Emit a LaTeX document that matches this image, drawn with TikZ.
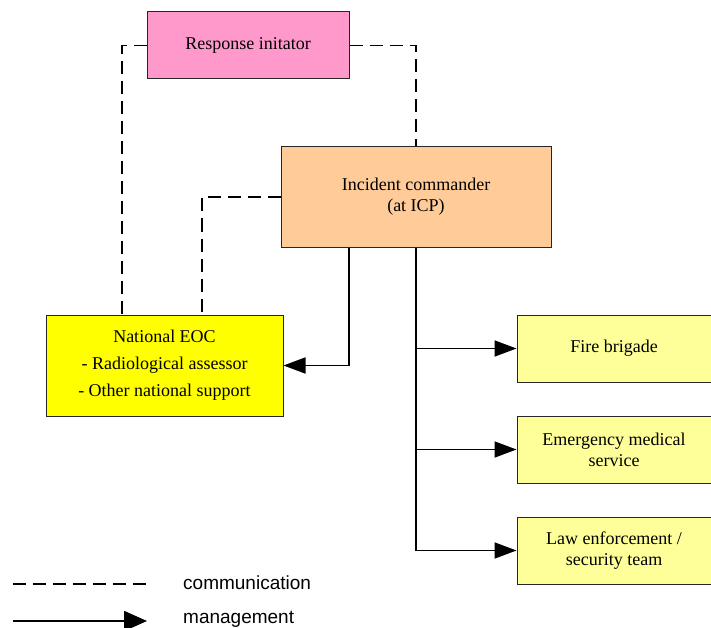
\documentclass[tikz,border=0pt]{standalone}
\usepackage{fontspec}
\setmainfont{Liberation Serif}
\newfontfamily\legendfont{Liberation Sans}
\usetikzlibrary{arrows.meta}

\definecolor{respfill}{HTML}{FF99CC}
\definecolor{icfill}{HTML}{FFCC99}
\definecolor{eocfill}{HTML}{FFFF00}
\definecolor{teamfill}{HTML}{FFFF99}

\tikzset{
  box/.style={draw=black!85, line width=1pt, align=center, inner sep=0pt,
    font=\fontsize{18}{21}\selectfont},
  comm/.style={line width=1.8pt, dash pattern=on 13pt off 7pt},
  mgmt/.style={line width=1.8pt, -{Triangle[length=22pt,width=16pt]}}
}

\begin{document}
\begin{tikzpicture}[x=1pt,y=-1pt]
  \useasboundingbox (0,0) rectangle (711,628);
  \clip (0,0) rectangle (711,628);

  % Draw the boxes
  \node[box, fill=respfill, minimum width=202pt, minimum height=67pt] (resp) at (248,45.5) {Response initator};
  \node[box, fill=icfill, minimum width=270pt, minimum height=100pt] (inc) at (416,197) {Incident commander\\(at ICP)};
  \node[box, fill=eocfill, minimum width=237pt, minimum height=101pt] (eoc) at (164.5,365.5)
    {National EOC\\[6pt]- Radiological assessor\\[6pt]- Other national support};

  \node[box, fill=teamfill, minimum width=194pt, minimum height=67pt] (fire) at (614,348.5) {Fire brigade};
  \node[box, fill=teamfill, minimum width=194pt, minimum height=67pt] (ems) at (614,449.5) {Emergency medical\\service};
  \node[box, fill=teamfill, minimum width=194pt, minimum height=67pt] (law) at (614,550.5) {Law enforcement /\\security team};

  % Draw the communication lines
  \draw[comm] (resp.west) -| ([xshift=-42.5pt]eoc.north);
  \draw[comm] (resp.east) -| (inc.north);
  \draw[comm] (inc.west) -| ([xshift=37.5pt]eoc.north);

  % Draw the management lines
  \draw[mgmt] ([xshift=-67pt]inc.south) |- (eoc.east);
  \draw[mgmt] (inc.south) |- (law.west);
  \draw[mgmt] (inc.south |- fire.west) -- (fire.west);
  \draw[mgmt] (inc.south |- ems.west) -- (ems.west);

  % Draw the legend
  \coordinate (c1) at (13,584);
  \coordinate (c2) at (147,584);
  \coordinate (m1) at (13,621);
  \coordinate (m2) at (147,621);
  \draw[comm] (c1) -- (c2);
  \draw[line width=1.8pt, -{Triangle[length=23pt,width=20pt]}] (m1) -- (m2);
  \node[anchor=west, inner sep=0pt, font=\legendfont\fontsize{19}{22}\selectfont] (commtext) at (183,583) {communication};
  \node[anchor=west, inner sep=0pt, font=\legendfont\fontsize{19}{22}\selectfont] (mgmttext) at (183,619) {management};

\end{tikzpicture}
\end{document}
